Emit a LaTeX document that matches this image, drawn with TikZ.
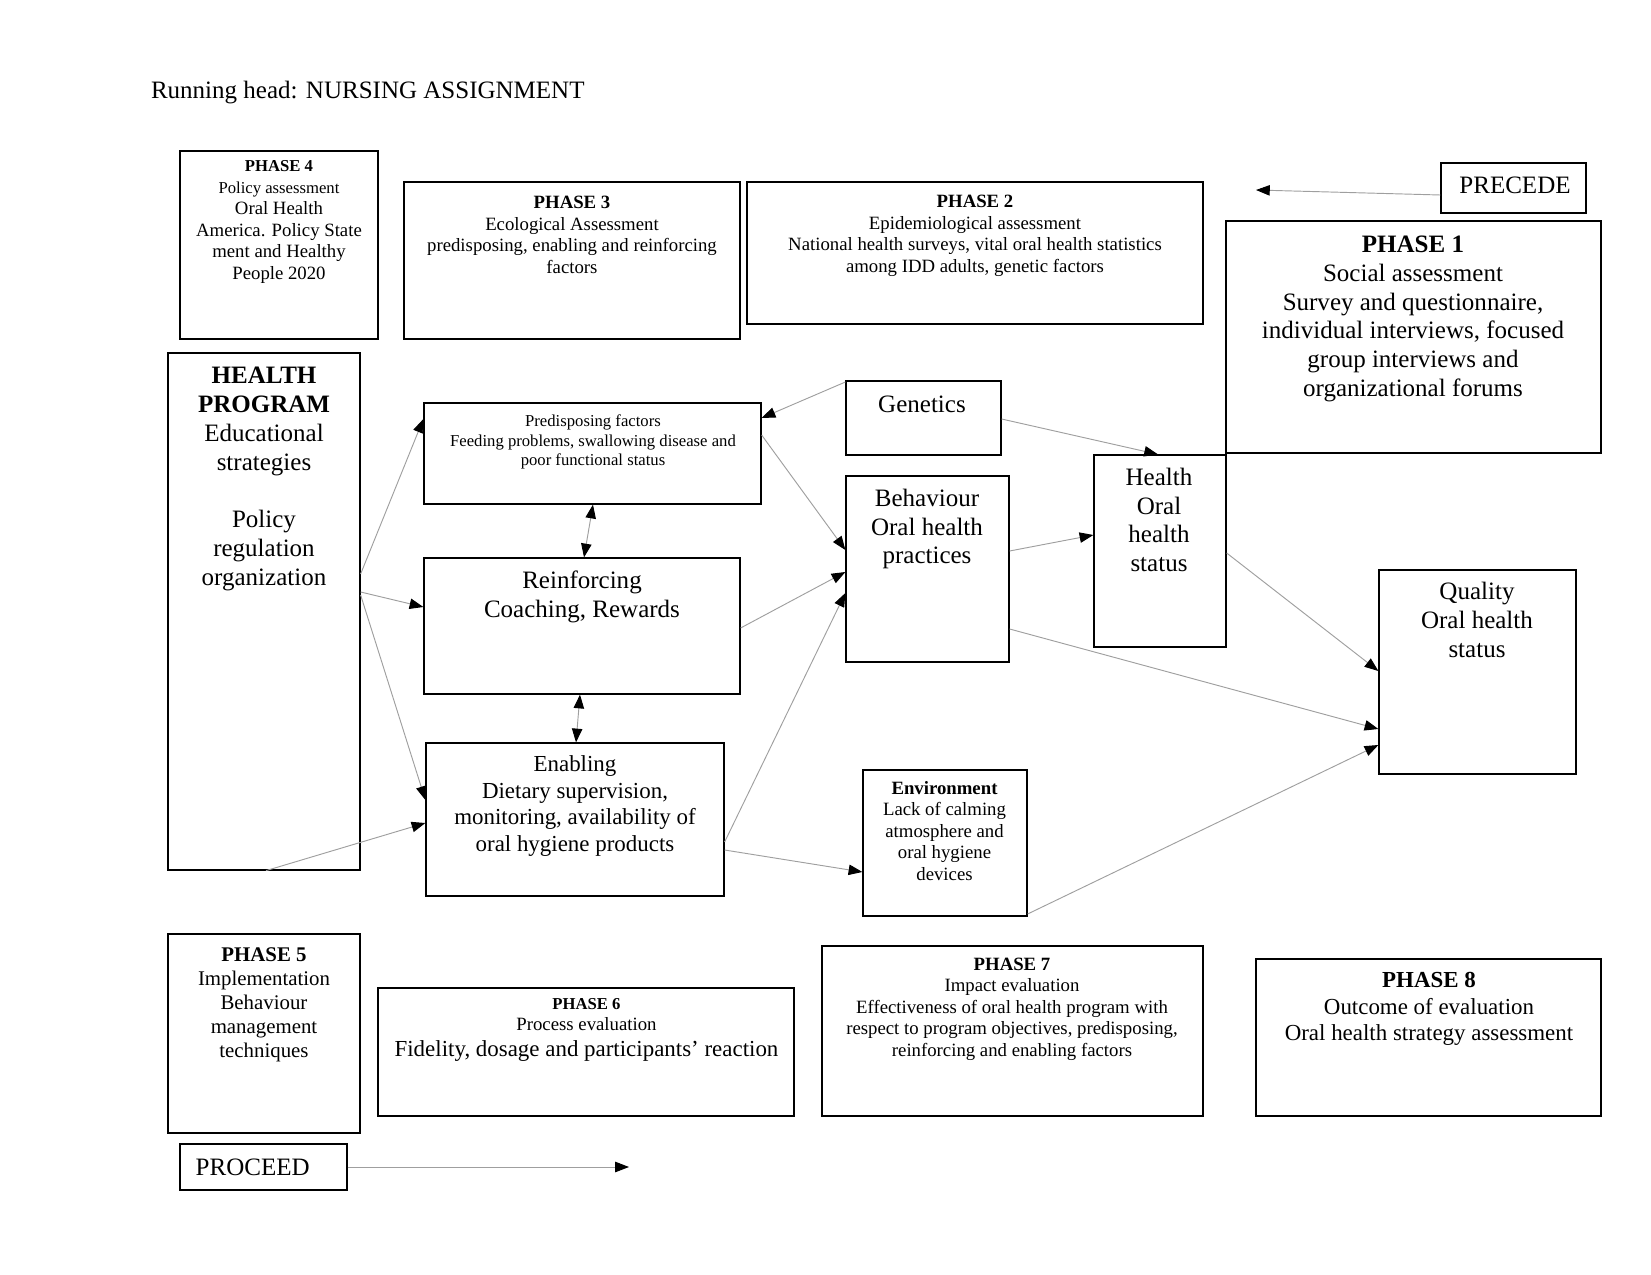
\documentclass[tikz,border=0pt]{standalone}
\usepackage{fontspec}
\setmainfont{Liberation Serif}
\usetikzlibrary{arrows.meta,fit}
\newcommand{\szA}{\fontsize{8pt}{9.2pt}\selectfont}
\newcommand{\szB}{\fontsize{9pt}{10.35pt}\selectfont}
\newcommand{\szC}{\fontsize{10pt}{11.5pt}\selectfont}
\newcommand{\szD}{\fontsize{11pt}{12.65pt}\selectfont}
\newcommand{\szE}{\fontsize{12pt}{13.8pt}\selectfont}
\tikzset{
  box/.style={draw=black, line width=0.6pt, inner sep=0pt},
  txt/.style={align=center, inner sep=0pt},
  conn/.style={draw=gray!75, line width=0.45pt, -{Triangle[length=6.6pt,width=5pt,color=black]}},
  dconn/.style={draw=gray!75, line width=0.45pt, {Triangle[length=6.6pt,width=5pt,color=black]}-{Triangle[length=6.6pt,width=5pt,color=black]}}
}
\begin{document}
\begin{tikzpicture}[x=0.47971pt, y=-0.47971pt]
\useasboundingbox (0,0) rectangle (1651,1275);

\node[txt, anchor=west, font=\szE] (rh) at (150.6,92.5) {Running head: NURSING ASSIGNMENT};

% boxes
\node[box, fit={(180,151)(378,339)}] (p4) {};
\node[box, fit={(404,182)(740,339)}] (p3) {};
\node[box, fit={(747,182)(1203,324)}] (p2) {};
\node[box, fit={(1441,163)(1586,213)}] (prec) {};
\node[box, fit={(1226,221)(1601,453)}] (p1) {};
\node[box, fit={(168,353)(360,870)}] (hp) {};
\node[box, fit={(424,403)(761,504)}] (pre) {};
\node[box, fit={(846,381)(1001,455)}] (gen) {};
\node[box, fit={(424,558)(740,694)}] (rein) {};
\node[box, fit={(846,476)(1009,662)}] (beh) {};
\node[box, fit={(1094,455)(1226,647)}] (hos) {};
\node[box, fit={(1379,570)(1576,774)}] (qual) {};
\node[box, fit={(426,743)(724,896)}] (enab) {};
\node[box, fit={(863,770)(1027,916)}] (env) {};
\node[box, fit={(168,934)(360,1133)}] (p5) {};
\node[box, fit={(378,988)(794,1116)}] (p6) {};
\node[box, fit={(822,946)(1203,1116)}] (p7) {};
\node[box, fit={(1256,959)(1601,1116)}] (p8) {};
\node[box, fit={(180,1144)(347,1190)}] (proc) {};

% texts
\node[txt, font=\szB] (p4t) at (279,222) {{\szA\textbf{PHASE 4}}\\{\szA Policy assessment}\\Oral Health\\America. Policy State\\ment and Healthy\\People 2020};
\node[txt, font=\szB] (p3t) at (572,235) {\textbf{PHASE 3}\\Ecological Assessment\\predisposing, enabling and reinforcing\\factors};
\node[txt, font=\szB] (p2t) at (975,236) {\textbf{PHASE 2}\\Epidemiological assessment\\National health surveys, vital oral health statistics\\among IDD adults, genetic factors};
\node[txt, font=\szE] (prect) at (1515,185) {PRECEDE};
\node[txt, font=\szE] (p1t) at (1413,319) {\textbf{PHASE 1}\\Social assessment\\Survey and questionnaire,\\individual interviews, focused\\group interviews and\\organizational forums};
\node[txt, font=\szE] (hpt) at (264,479) {\textbf{HEALTH}\\\textbf{PROGRAM}\\Educational\\strategies\\[13.8pt]Policy\\regulation\\organization};
\node[txt, font=\szA] (pret) at (593,442) {Predisposing factors\\Feeding problems, swallowing disease and\\poor functional status};
\node[txt, font=\szE] (gent) at (922,404) {Genetics};
\node[txt, font=\szE] (reint) at (582,597) {Reinforcing\\Coaching, Rewards};
\node[txt, font=\szE] (beht) at (927,529) {Behaviour\\Oral health\\practices};
\node[txt, font=\szE] (host) at (1159,520) {Health\\Oral\\health\\status};
\node[txt, font=\szE] (qualt) at (1477,620) {Quality\\Oral health\\status};
\node[txt, font=\szD] (enabt) at (575,806) {Enabling\\Dietary supervision,\\monitoring, availability of\\oral hygiene products};
\node[txt, font=\szB] (envt) at (944.5,831) {\textbf{Environment}\\Lack of calming\\atmosphere and\\oral hygiene\\devices};
\node[txt, font=\szC] (p5t) at (264,1005) {\textbf{PHASE 5}\\Implementation\\Behaviour\\management\\techniques};
\node[txt, font=\szB] (p6t) at (586.5,1030) {{\szA\textbf{PHASE 6}}\\Process evaluation\\[2pt]{\szD Fidelity, dosage and participants’ reaction}};
\node[txt, font=\szB] (p7t) at (1012,1009) {\textbf{PHASE 7}\\Impact evaluation\\Effectiveness of oral health program with\\respect to program objectives, predisposing,\\reinforcing and enabling factors};
\node[txt, font=\szD] (p8t) at (1429,1009) {\textbf{PHASE 8}\\Outcome of evaluation\\Oral health strategy assessment};
\node[txt, font=\szE] (proct) at (252.7,1167) {PROCEED};

% free ends
\coordinate (precend) at (1256,190);
\coordinate (procend) at (629,1167);

% connectors
\draw[conn] (hp.east |- 0,574) -- (pre.west |- 0,419);
\draw[conn] (hp.east |- 0,592) -- (rein.west |- 0,607);
\draw[conn] (hp.east |- 0,595) -- (enab.west |- 0,800);
\draw[conn] (hp.south -| 266,0) -- (enab.west |- 0,823);
\draw[conn] (gen.west |- 0,382) -- (pre.east |- 0,418);
\draw[conn] (pre.east |- 0,435) -- (beh.west |- 0,550);
\draw[dconn] (pre.south -| 593,0) -- (rein.north -| 584,0);
\draw[dconn] (rein.south -| 580,0) -- (enab.north -| 576,0);
\draw[conn] (rein.east |- 0,628) -- (beh.west |- 0,572);
\draw[conn] (enab.east |- 0,842) -- (beh.west |- 0,593);
\draw[conn] (enab.east |- 0,850) -- (env.west |- 0,872);
\draw[conn] (gen.east |- 0,419) -- (hos.north -| 1158,0);
\draw[conn] (beh.east |- 0,551) -- (hos.west |- 0,535);
\draw[conn] (hos.east |- 0,553) -- (qual.west |- 0,671);
\draw[conn] (beh.east |- 0,629) -- (qual.west |- 0,729);
\draw[conn] (env.east |- 0,914) -- (qual.west |- 0,745);
\draw[conn] (prec.west |- 0,195) -- (precend);
\draw[conn] (proc.east |- 0,1167) -- (procend);
\end{tikzpicture}
\end{document}
